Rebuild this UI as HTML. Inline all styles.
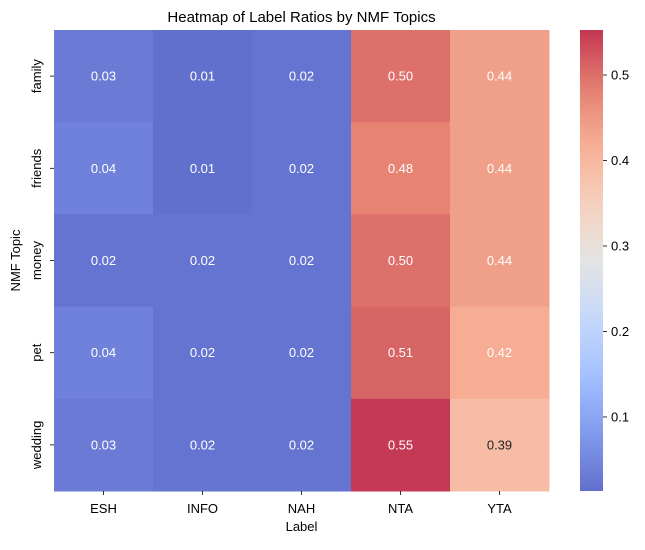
<!DOCTYPE html>
<html><head><meta charset="utf-8"><style>
body{margin:0;background:#fff;}
svg{font-family:"Liberation Sans","DejaVu Sans",sans-serif;}
</style></head><body>
<svg id="chart" width="645" height="545"></svg>
<script>
const topics = ["family","friends","money","pet","wedding"];
const labels = ["ESH","INFO","NAH","NTA","YTA"];
const rowFamily = [0.03,0.01,0.02,0.50,0.44];
const rowFriends = [0.04,0.01,0.02,0.48,0.44];
const rowMoney = [0.02,0.02,0.02,0.50,0.44];
const rowPet = [0.04,0.02,0.02,0.51,0.42];
const rowWedding = [0.03,0.02,0.02,0.55,0.39];
const cbTicks = [0.1,0.2,0.3,0.4,0.5];
const values = [rowFamily,rowFriends,rowMoney,rowPet,rowWedding];

const NS="http://www.w3.org/2000/svg";
const svg=document.getElementById('chart');
function mk(tag,attrs,parent){const e=document.createElementNS(NS,tag);for(const k in attrs)e.setAttribute(k,attrs[k]);(parent||svg).appendChild(e);return e;}
const L=54,R=549,T=30,B=491;
const cw=(R-L)/labels.length, rh=(B-T)/topics.length;
const vmin=0.0134, vmax=0.5526;
const stops=[[59,76,192],[98,130,234],[141,176,254],[184,208,249],[221,221,221],[245,196,173],[244,154,123],[222,96,77],[180,4,38]];
function cmap(t){t=Math.max(0,Math.min(1,t));const p=t*8,i=Math.min(7,Math.floor(p)),f=p-i;
 return stops[i].map((c,j)=>Math.round((c+(stops[i+1][j]-c)*f)*0.8+255*0.2));}
function norm(v){return (v-vmin)/(vmax-vmin);}
function xPos(i){return L+i*cw;}
function yPos(i){return T+i*rh;}
values.forEach((row,r)=>row.forEach((v,c)=>{
 const col=cmap(norm(v));
 const rect=mk('rect',{x:xPos(c),y:yPos(r),width:cw+0.5,height:rh+0.5,fill:`rgb(${col})`});
 
 
 const lum=(0.299*col[0]+0.587*col[1]+0.114*col[2])/255;
 const t=mk('text',{x:xPos(c)+cw/2,y:yPos(r)+rh/2+4.5,'text-anchor':'middle','font-size':13,fill:lum>0.78?'#262626':'#fff'});
 t.textContent=v.toFixed(2);
 
 
}));
labels.forEach((l,i)=>{
 const x=xPos(i)+cw/2;
 mk('line',{x1:x,x2:x,y1:B,y2:B+4,stroke:'#000','stroke-width':0.8});
 const t=mk('text',{x:x,y:B+22,'text-anchor':'middle','font-size':13});t.textContent=l;
 
 
});
topics.forEach((l,i)=>{
 const y=yPos(i)+rh/2;
 mk('line',{x1:L-4,x2:L,y1:y,y2:y,stroke:'#000','stroke-width':0.8});
 const t=mk('text',{x:0,y:0,'text-anchor':'middle','font-size':13,transform:`translate(41,${y}) rotate(-90)`});t.textContent=l;
 
 
});
const CL=580,CR=603;
const defs=mk('defs',{});
const g=mk('linearGradient',{id:'cbg',x1:0,y1:1,x2:0,y2:0},defs);
for(let k=0;k<=20;k++){mk('stop',{offset:k/20,'stop-color':`rgb(${cmap(k/20)})`},g);}
const cb=mk('rect',{x:CL,y:T,width:CR-CL,height:B-T,fill:'url(#cbg)'});


function cbY(v){return B-(v-vmin)/(vmax-vmin)*(B-T);}
cbTicks.forEach(v=>{
 const y=cbY(v);
 mk('line',{x1:CR,x2:CR+4,y1:y,y2:y,stroke:'#000','stroke-width':0.8});
 const t=mk('text',{x:CR+8,y:y+4.5,'font-size':13});t.textContent=v.toFixed(1);
 
 
});
const title=mk('text',{x:(L+R)/2,y:22,'text-anchor':'middle','font-size':15});title.textContent='Heatmap of Label Ratios by NMF Topics';


const xt=mk('text',{x:(L+R)/2,y:531,'text-anchor':'middle','font-size':13});xt.textContent='Label';


const yt=mk('text',{x:0,y:0,'text-anchor':'middle','font-size':13,transform:`translate(20,${(T+B)/2}) rotate(-90)`});yt.textContent='NMF Topic';


</script>
</body></html>
